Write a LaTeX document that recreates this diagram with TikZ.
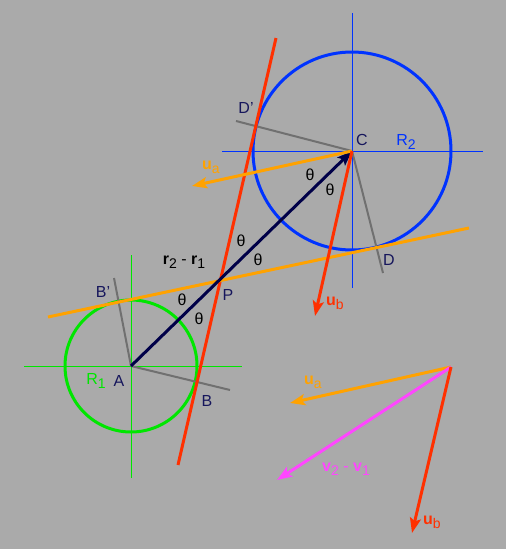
\documentclass[tikz,border=0pt]{standalone}
\usepackage{fontspec}
\setmainfont{Liberation Sans}
\usetikzlibrary{arrows.meta}
\definecolor{bg_gray}{RGB}{170,170,170}
\definecolor{c_orange}{RGB}{255,162,0}
\definecolor{c_red}{RGB}{255,48,0}
\definecolor{c_blue}{RGB}{0,51,255}
\definecolor{c_green}{RGB}{0,230,0}
\definecolor{c_magenta}{RGB}{255,70,255}
\definecolor{c_navy}{RGB}{0,0,72}
\definecolor{c_ink}{RGB}{22,22,92}
\definecolor{c_radius}{RGB}{112,112,112}
\newcommand{\lowidx}[1]{\raisebox{-0.45ex}{\fontsize{14}{15}\selectfont #1}}
\tikzset{
    circ_green/.style={draw=c_green, line width=3pt},
    circ_blue/.style={draw=c_blue, line width=3pt},
    axis_green/.style={draw=c_green, line width=1pt},
    axis_blue/.style={draw=c_blue, line width=1pt},
    radius_gray/.style={draw=c_radius, line width=2pt},
    tan_red/.style={draw=c_red, line width=3pt},
    tan_orange/.style={draw=c_orange, line width=3pt},
    vec_arrow/.style={-{Stealth[length=15pt, width=11pt, inset=3pt]}, line width=3pt},
    lbl/.style={font=\fontsize{16}{18}\selectfont, text=c_ink, inner sep=0pt}
}
\begin{document}
\begin{tikzpicture}[x=1pt, y=-1pt]
    % background
    \fill[bg_gray] (0,0) rectangle (506,549);
    \useasboundingbox (0,0) rectangle (506,549);

    % centres and contact points
    \coordinate (A) at (131,366);
    \coordinate (C) at (352,151);
    \coordinate (bp_end) at (114,278);
    \coordinate (b_end) at (230,390);
    \coordinate (dp_end) at (236,121);
    \coordinate (d_end) at (383,273);
    \coordinate (red_top) at (276,38);
    \coordinate (red_bot) at (178,465);
    \coordinate (org_left) at (48,317);
    \coordinate (org_right) at (469,228);

    % circles and axes
    \draw[circ_green] (A) circle[radius=66];
    \draw[circ_blue] (C) circle[radius=99];
    \draw[axis_green] (24,366) -- (242,366);
    \draw[axis_green] (131,255) -- (131,478);
    \draw[axis_blue] (222,151) -- (483,151);
    \draw[axis_blue] (352,13) -- (352,288);

    % radii to tangent points
    \draw[radius_gray] (A) -- (bp_end);
    \draw[radius_gray] (A) -- (b_end);
    \draw[radius_gray] (C) -- (dp_end);
    \draw[radius_gray] (C) -- (d_end);

    % common tangents
    \draw[tan_red] (red_top) -- (red_bot);
    \draw[tan_orange] (org_left) -- (org_right);

    % relative position and unit vectors
    \draw[vec_arrow, draw=c_navy, fill=c_navy] (A) -- (C);
    \coordinate (ua_tip) at (192,186);
    \coordinate (ub_tip) at (315,316);
    \draw[vec_arrow, draw=c_orange, fill=c_orange] (C) -- (ua_tip);
    \draw[vec_arrow, draw=c_red, fill=c_red] (C) -- (ub_tip);

    % vector diagram
    \coordinate (O) at (451,367);
    \coordinate (ua_end) at (290,403);
    \coordinate (dv_end) at (277,480);
    \coordinate (ub_end) at (412,533);
    \draw[vec_arrow, draw=c_orange, fill=c_orange] (O) -- (ua_end);
    \draw[vec_arrow, draw=c_magenta, fill=c_magenta] (O) -- (dv_end);
    \draw[vec_arrow, draw=c_red, fill=c_red] (O) -- (ub_end);

    % labels
    \node[lbl] (lbl_dp) at (246,108) {D'};
    \node[lbl] (lbl_c) at (362,140) {C};
    \node[lbl, text=c_blue] (lbl_r2) at (406,142) {R\lowidx{2}};
    \node[lbl, text=c_orange] (lbl_ua) at (211,167) {\textbf{u}\lowidx{a}};
    \node[lbl, text=black] (lbl_th1) at (310,175) {θ};
    \node[lbl, text=black] (lbl_th2) at (330,190) {θ};
    \node[lbl, text=black] (lbl_th3) at (241,241) {θ};
    \node[lbl, text=black] (lbl_th4) at (258,260) {θ};
    \node[lbl, text=black] (lbl_th5) at (182,300) {θ};
    \node[lbl, text=black] (lbl_th6) at (199,319) {θ};
    \node[lbl, text=black] (lbl_rel) at (184,262) {\textbf{r}\lowidx{2} - \textbf{r}\lowidx{1}};
    \node[lbl] (lbl_d) at (389,260) {D};
    \node[lbl, text=c_red] (lbl_ub) at (335,303) {\textbf{u}\lowidx{b}};
    \node[lbl] (lbl_p) at (228,295) {P};
    \node[lbl] (lbl_bp) at (103,292) {B'};
    \node[lbl, text=c_green] (lbl_r1) at (96,381) {R\lowidx{1}};
    \node[lbl] (lbl_a) at (119,381) {A};
    \node[lbl] (lbl_b) at (207,401) {B};
    \node[lbl, text=c_orange] (lbl_ua2) at (313,382) {\textbf{u}\lowidx{a}};
    \node[lbl, text=c_magenta] (lbl_dv) at (346,469) {\textbf{v}\lowidx{2} - \textbf{v}\lowidx{1}};
    \node[lbl, text=c_red] (lbl_ub2) at (432,522) {\textbf{u}\lowidx{b}};
\end{tikzpicture}
\end{document}
